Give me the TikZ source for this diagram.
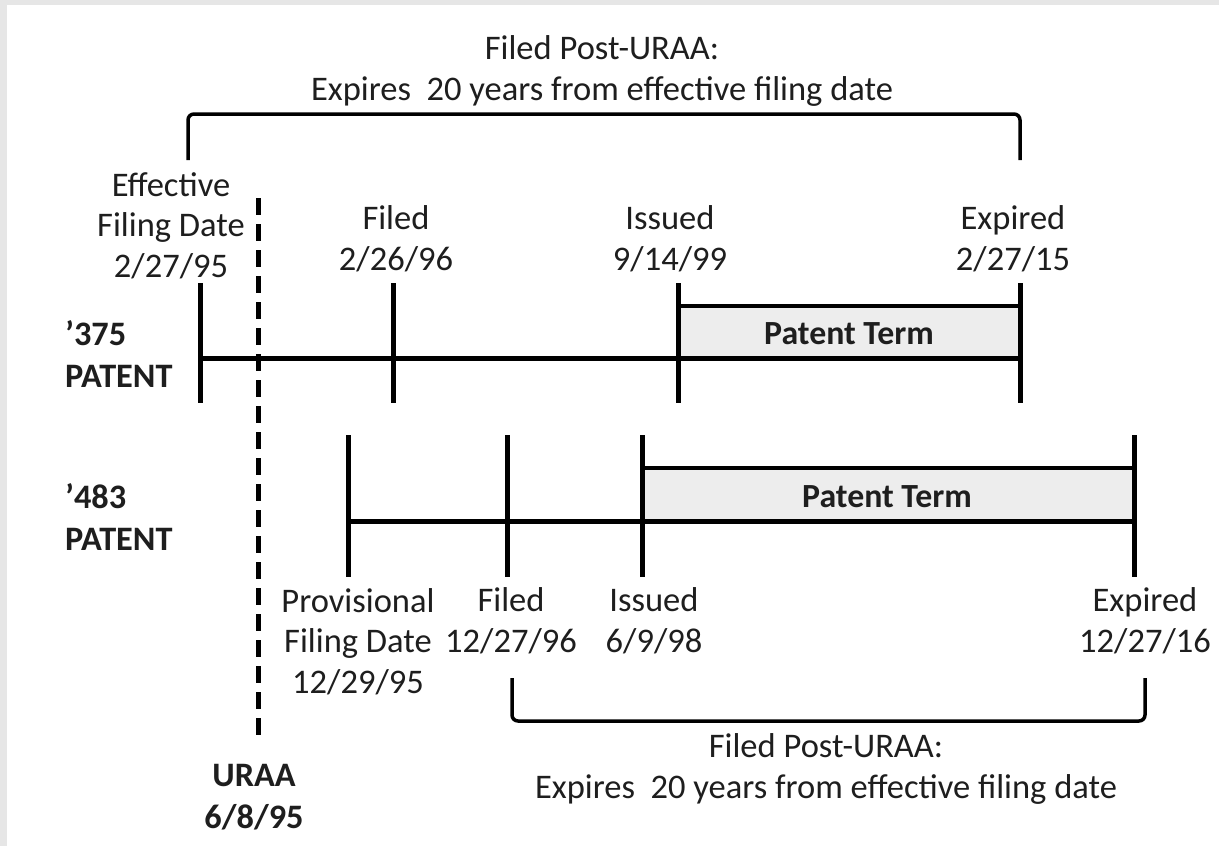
\documentclass[tikz,border=0pt]{standalone}
\usepackage{fontspec}
\setmainfont{Carlito}
\definecolor{ink}{HTML}{1E1E1E}
\definecolor{frame}{HTML}{E6E6E6}
\definecolor{termfill}{HTML}{EDEDED}
\begin{document}
\begin{tikzpicture}[x=1pt,y=-1pt,
  lbl/.style={font=\fontsize{34.5}{40.5}\selectfont, text=ink, align=center, inner sep=0pt, anchor=base},
  bold/.style={lbl, font=\fontsize{34.3}{41.5}\selectfont\bfseries},
  termtxt/.style={lbl, font=\fontsize{33.8}{38}\selectfont\bfseries},
  axis/.style={line width=5pt, draw=black},
  tick/.style={line width=5pt, draw=black},
  termbox/.style={fill=termfill, draw=black, line width=4.5pt},
  brace/.style={line width=3.5pt, draw=black, rounded corners=6pt},
  uraaline/.style={line width=5pt, draw=black, dash pattern=on 17pt off 9pt}
]
% page frame
\fill[frame] (0,0) rectangle (1219,846);
\fill[white] (7,5) rectangle (1219,846);
\useasboundingbox (0,0) rectangle (1219,846);

% ---------- '375 patent ----------
\coordinate (a0) at (200,358);
\coordinate (a1) at (393,358);
\coordinate (a2) at (678,358);
\coordinate (a3) at (1020,358);
\coordinate (a3t) at (1020,306);
\draw[termbox] (a2) rectangle (a3t);
\draw[axis] (a0) -- (a3);
\foreach \c in {a0,a1,a2,a3}
  \draw[tick] ([yshift=75pt]\c) -- ([yshift=-45pt]\c);
\node[termtxt] (term1) at (849,344) {Patent Term};

% ---------- '483 patent ----------
\coordinate (b0) at (348,521);
\coordinate (b1) at (507,521);
\coordinate (b2) at (642,521);
\coordinate (b3) at (1134,521);
\coordinate (b3t) at (1134,468);
\draw[termbox] (b2) rectangle (b3t);
\draw[axis] (b0) -- (b3);
\foreach \c in {b0,b1,b2,b3}
  \draw[tick] ([yshift=86pt]\c) -- ([yshift=-56pt]\c);
\node[termtxt] (term2) at (887,507) {Patent Term};

% ---------- URAA date ----------
\coordinate (u0) at (258,198);
\coordinate (u1) at (258,738);
\draw[uraaline] (u0) -- (u1);

% ---------- braces ----------
\coordinate (t0) at (188,160);
\coordinate (t1) at (1020,160);
\draw[brace] (t0) -- (188,114) -- (1020,114) -- (t1);
\coordinate (s0) at (512,678);
\coordinate (s1) at (1145,678);
\draw[brace] (s0) -- (512,721) -- (1145,721) -- (s1);

% ---------- labels (positioned by the baseline of their last line) ----------
\node[lbl] (toptitle) at (602,100) {Filed Post-URAA:\\Expires\ \ 20 years from effective filing date};
\node[lbl] (effdate) at (171,277) {Effective\\Filing Date\\2/27/95};
\node[lbl] (filedA) at (396,270) {Filed\\2/26/96};
\node[lbl] (issuedA) at (670,270) {Issued\\9/14/99};
\node[lbl] (expiredA) at (1013,270) {Expired\\2/27/15};
\node[bold, align=left, anchor=base west] (pA) at (65,387) {’375\\PATENT};
\node[bold, align=left, anchor=base west] (pB) at (65,550) {’483\\PATENT};
\node[lbl] (prov) at (358,693) {Provisional\\Filing Date\\12/29/95};
\node[lbl] (filedB) at (511,652) {Filed\\12/27/96};
\node[lbl] (issuedB) at (654,652) {Issued\\6/9/98};
\node[lbl] (expiredB) at (1145,652) {Expired\\12/27/16};
\node[lbl] (bottitle) at (826,798) {Filed Post-URAA:\\Expires\ \ 20 years from effective filing date};
\node[bold] (uraa) at (254,828) {URAA\\6/8/95};
\end{tikzpicture}
\end{document}
